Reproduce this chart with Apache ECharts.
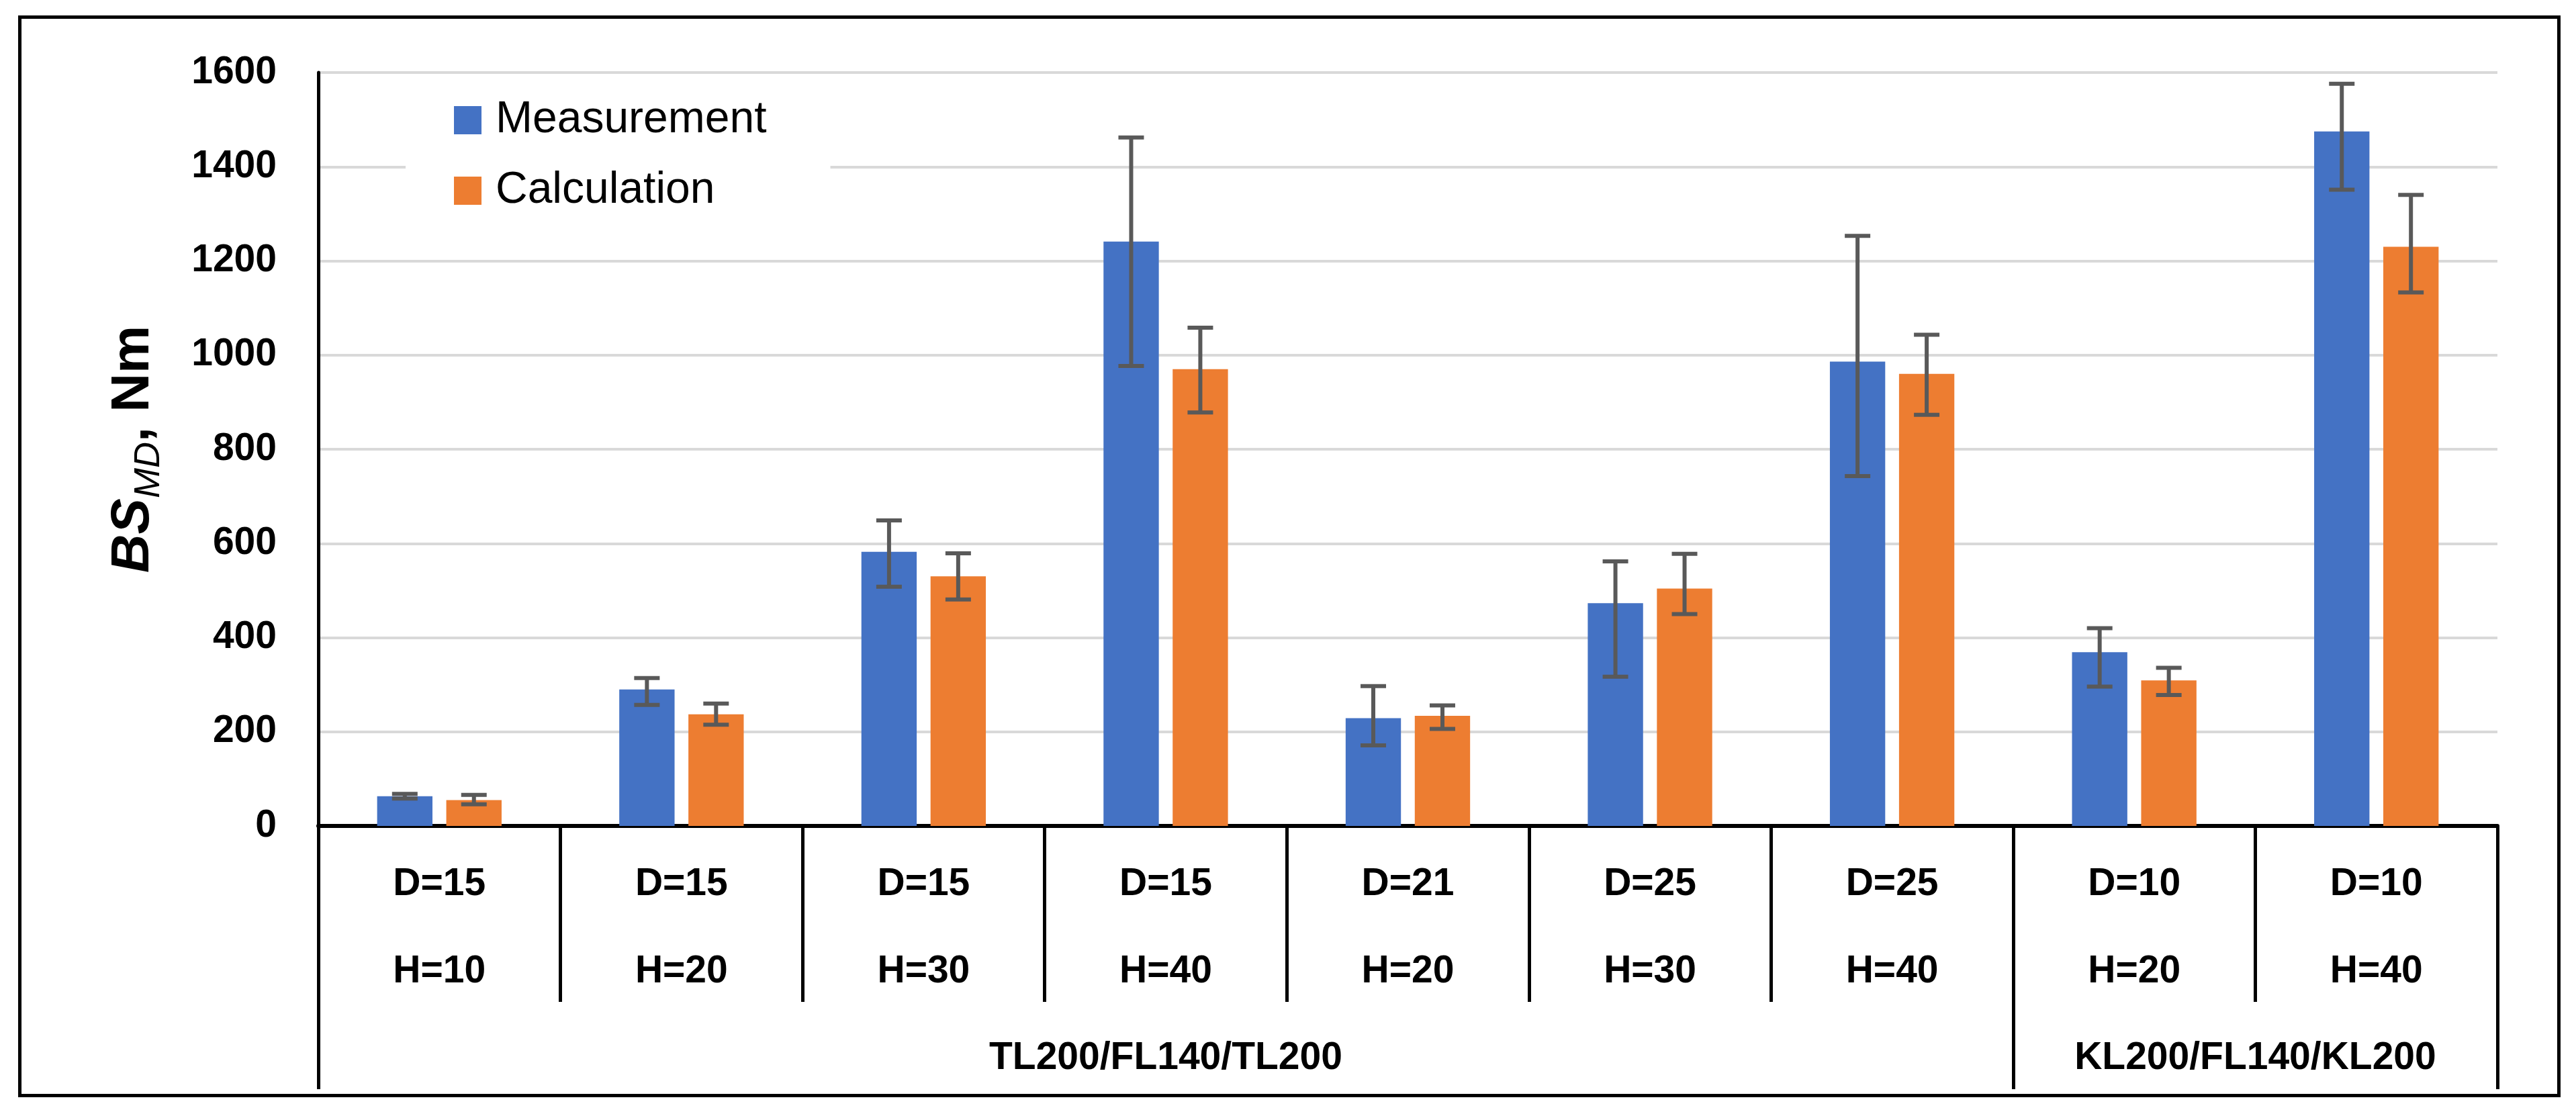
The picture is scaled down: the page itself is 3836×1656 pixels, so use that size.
<!DOCTYPE html>
<html>
<head>
<meta charset="utf-8">
<script src="https://cdn.jsdelivr.net/npm/echarts@6/dist/echarts.min.js"></script>
<style>html,body{margin:0;padding:0;background:#fff;}#c{width:3836px;height:1656px;}</style>
</head>
<body>
<div id="c"></div>
<script>
const dVals = ['D=15','D=15','D=15','D=15','D=21','D=25','D=25','D=10','D=10'];
const hVals = ['H=10','H=20','H=30','H=40','H=20','H=30','H=40','H=20','H=40'];
const groupNames = ['TL200/FL140/TL200','KL200/FL140/KL200'];
const groupSpans = [7, 2];
const yTicks = [0, 200, 400, 600, 800, 1000, 1200, 1400, 1600];

const measurement = [63, 290, 582, 1241, 229, 473, 986, 369, 1475];
const measLow  = [58, 257, 508, 977, 171, 317, 743, 296, 1351];
const measHigh = [68, 314, 649, 1462, 297, 562, 1253, 420, 1576];

const calculation = [55, 237, 530, 970, 234, 504, 960, 309, 1230];
const calcLow  = [46, 215, 481, 878, 206, 450, 873, 278, 1133];
const calcHigh = [66, 260, 579, 1058, 256, 578, 1043, 336, 1340];

const categories = dVals.map((d, i) => d + '\n' + hVals[i]);
const boundaries = [0];
groupSpans.forEach(s => boundaries.push(boundaries[boundaries.length - 1] + s));
const groupCenters = groupSpans.map((s, i) => boundaries[i] + s / 2);

const CAT_GAP = 0.486, BAR_GAP = 0.25;
const FONT = 'Liberation Sans';

function errSeries(name, lows, highs, side) {
  return {
    type: 'custom',
    name: name + ' err',
    xAxisIndex: 0, yAxisIndex: 0,
    z: 10,
    silent: true,
    data: lows.map((l, i) => [i, l, highs[i]]),
    encode: { x: 0, y: [1, 2] },
    renderItem: function (params, api) {
      const i = api.value(0);
      const lo = api.coord([i, api.value(1)]);
      const hi = api.coord([i, api.value(2)]);
      const bw = api.size([1, 0])[0];
      const w = bw * (1 - CAT_GAP) / (2 + BAR_GAP);
      const x = lo[0] + side * w * (1 + BAR_GAP) / 2;
      const h = 19;
      const st = { stroke: '#595959', lineWidth: 6 };
      return {
        type: 'group',
        children: [
          { type: 'line', shape: { x1: x, y1: lo[1], x2: x, y2: hi[1] }, style: st },
          { type: 'line', shape: { x1: x - h, y1: lo[1], x2: x + h, y2: lo[1] }, style: st },
          { type: 'line', shape: { x1: x - h, y1: hi[1], x2: x + h, y2: hi[1] }, style: st }
        ]
      };
    }
  };
}

const chart = echarts.init(document.getElementById('c'));
chart.setOption({
  backgroundColor: '#fff',
  animation: false,
  textStyle: { fontFamily: FONT },
  graphic: [{
    type: 'rect', left: 27, top: 23,
    shape: { width: 3781, height: 1606 },
    style: { fill: 'none', stroke: '#000', lineWidth: 5 },
    z: -1
  }],
  grid: { left: 474, right: 117, top: 108, bottom: 426 },
  legend: {
    data: ['Measurement', 'Calculation'],
    orient: 'vertical',
    left: 604, top: 126,
    padding: [20, 95, 20, 72],
    backgroundColor: '#fff',
    itemWidth: 41, itemHeight: 42,
    itemGap: 39,
    icon: 'rect',
    textStyle: { fontFamily: FONT, fontSize: 66, color: '#000', lineHeight: 66, padding: [0, 0, 0, 16] },
    z: 20
  },
  xAxis: [{
    type: 'category',
    data: categories,
    axisLine: { lineStyle: { color: '#000', width: 6 } },
    axisTick: { show: true, interval: 0, length: 262, lineStyle: { color: '#000', width: 5 } },
    axisLabel: { interval: 0, fontFamily: FONT, fontSize: 57, fontWeight: 'bold', color: '#000', lineHeight: 130, margin: 22 },
    splitLine: { show: false }
  }, {
    type: 'value',
    min: 0, max: boundaries[boundaries.length - 1],
    position: 'bottom',
    axisLine: { show: false },
    splitLine: { show: false },
    axisTick: { show: true, customValues: boundaries, length: 392, lineStyle: { color: '#000', width: 5 } },
    axisLabel: {
      customValues: groupCenters,
      formatter: function (v) { const k = groupCenters.indexOf(v); return k >= 0 ? groupNames[k] : ''; },
      fontFamily: FONT, fontSize: 57, fontWeight: 'bold', color: '#000', lineHeight: 57, margin: 318
    }
  }],
  yAxis: {
    type: 'value',
    min: yTicks[0], max: yTicks[yTicks.length - 1], interval: 200,
    axisLine: { show: true, lineStyle: { color: '#000', width: 5 } },
    axisTick: { show: false },
    splitLine: { lineStyle: { color: '#D9D9D9', width: 4 } },
    axisLabel: {
      fontFamily: FONT, fontSize: 57, fontWeight: 'bold', color: '#000', margin: 62,
      formatter: function (v) { return String(v); }
    },
    name: '{b|BS}{s|MD}{n|, Nm}',
    nameLocation: 'middle',
    nameRotate: 90,
    nameGap: 225,
    nameTextStyle: {
      rich: {
        b: { fontFamily: FONT, fontSize: 80, fontWeight: 'bold', fontStyle: 'italic', color: '#000', lineHeight: 100 },
        s: { fontFamily: FONT, fontSize: 54, fontStyle: 'italic', color: '#000', lineHeight: 40, verticalAlign: 'bottom' },
        n: { fontFamily: FONT, fontSize: 80, fontWeight: 'bold', color: '#000', lineHeight: 100 }
      }
    }
  },
  series: [{
    name: 'Measurement', type: 'bar', data: measurement,
    itemStyle: { color: '#4472C4' },
    barCategoryGap: (CAT_GAP * 100) + '%', barGap: (BAR_GAP * 100) + '%'
  }, {
    name: 'Calculation', type: 'bar', data: calculation,
    itemStyle: { color: '#ED7D31' },
    barCategoryGap: (CAT_GAP * 100) + '%', barGap: (BAR_GAP * 100) + '%'
  },
  errSeries('Measurement', measLow, measHigh, -1),
  errSeries('Calculation', calcLow, calcHigh, 1)
  ]
});
</script>
</body>
</html>
